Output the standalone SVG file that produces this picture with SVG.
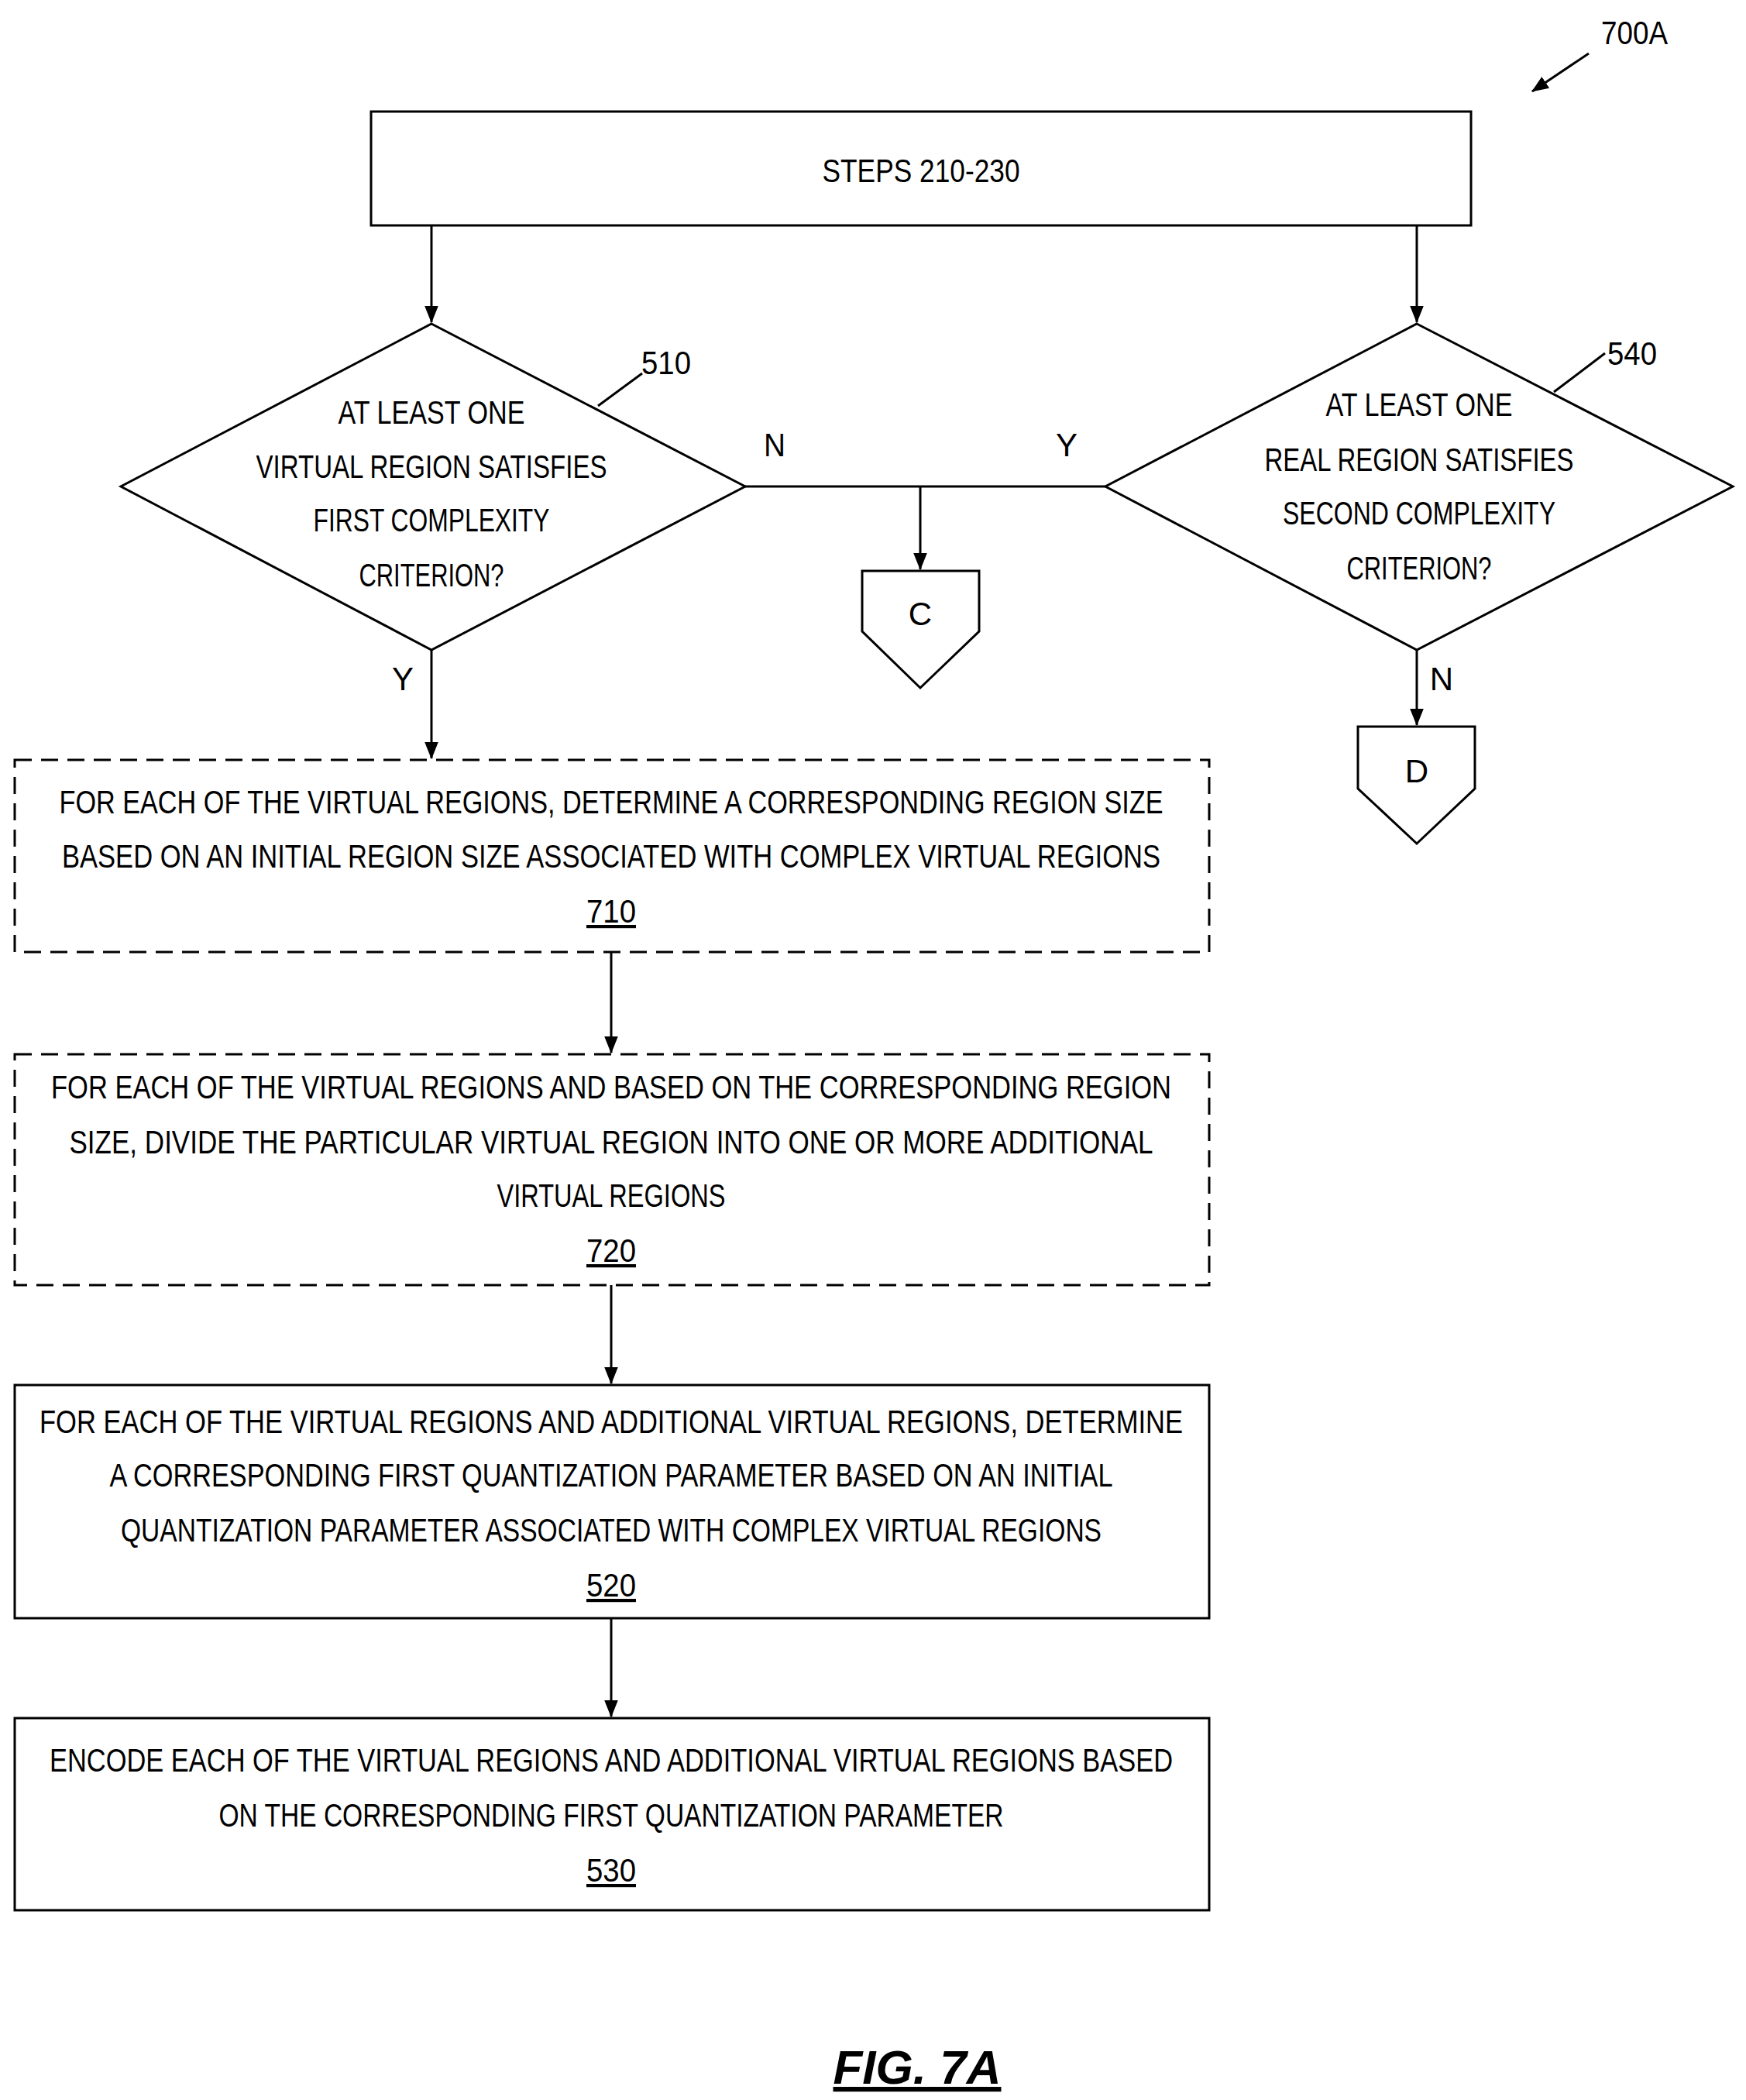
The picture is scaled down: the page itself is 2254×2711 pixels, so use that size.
<svg xmlns="http://www.w3.org/2000/svg" width="2254" height="2711" viewBox="0 0 2254 2711">
<defs>
<marker id="ah" markerWidth="10" markerHeight="10" refX="9" refY="5" orient="auto" markerUnits="userSpaceOnUse" viewBox="0 0 10 10"><path d="M0,0 L10,5 L0,10 z" fill="#000"/></marker>
<marker id="a" viewBox="0 0 20 20" refX="19" refY="10" markerWidth="22" markerHeight="22" markerUnits="userSpaceOnUse" orient="auto"><path d="M0,2 L20,10 L0,18 z" fill="#000"/></marker>
</defs>
<style>
.s{fill:#fff;stroke:#000;stroke-width:3}
.d{fill:#fff;stroke:#000;stroke-width:3;stroke-dasharray:22 12}
.t{font-family:"Liberation Sans",Arial,sans-serif;font-size:42px;fill:#000;text-anchor:middle}
.u{text-decoration:underline}
.c{stroke:#000;stroke-width:3;fill:none}
</style>
<rect width="2254" height="2711" fill="#fff"/>
<g id="connectors">
<line class="c" x1="557" y1="291" x2="557" y2="416" marker-end="url(#a)"/>
<line class="c" x1="1829" y1="291" x2="1829" y2="416" marker-end="url(#a)"/>
<line class="c" x1="962" y1="628" x2="1427" y2="628"/>
<line class="c" x1="1188" y1="628" x2="1188" y2="735" marker-end="url(#a)"/>
<line class="c" x1="557" y1="839" x2="557" y2="979" marker-end="url(#a)"/>
<line class="c" x1="1829" y1="839" x2="1829" y2="936" marker-end="url(#a)"/>
<line class="c" x1="789" y1="1229" x2="789" y2="1359" marker-end="url(#a)"/>
<line class="c" x1="789" y1="1659" x2="789" y2="1786" marker-end="url(#a)"/>
<line class="c" x1="789" y1="2089" x2="789" y2="2216" marker-end="url(#a)"/>
<line class="c" x1="2051" y1="69" x2="1978" y2="118" marker-end="url(#a)"/>
<line class="c" x1="772" y1="524" x2="829" y2="482"/>
<line class="c" x1="2006" y1="506" x2="2072" y2="456"/>
<text class="t" x="1000" y="589" textLength="28" lengthAdjust="spacingAndGlyphs">N</text>
<text class="t" x="1377" y="589">Y</text>
<text class="t" x="520" y="891">Y</text>
<text class="t" x="1861" y="891">N</text>
</g>
<g id="label700A"><text class="t" x="2110" y="57" textLength="86" lengthAdjust="spacingAndGlyphs">700A</text></g>
<g id="steps">
<rect class="s" x="479" y="144" width="1420" height="147"/>
<text class="t" x="1189" y="235" textLength="255" lengthAdjust="spacingAndGlyphs">STEPS 210-230</text>
</g>
<g id="n510">
<polygon class="s" points="557,418 962,628 557,839 156,628"/>
<text class="t" x="557" y="547" textLength="241" lengthAdjust="spacingAndGlyphs">AT LEAST ONE</text>
<text class="t" x="557" y="617" textLength="453" lengthAdjust="spacingAndGlyphs">VIRTUAL REGION SATISFIES</text>
<text class="t" x="557" y="686" textLength="305" lengthAdjust="spacingAndGlyphs">FIRST COMPLEXITY</text>
<text class="t" x="557" y="757" textLength="187" lengthAdjust="spacingAndGlyphs">CRITERION?</text>
<text class="t" x="860" y="483" textLength="64" lengthAdjust="spacingAndGlyphs">510</text>
</g>
<g id="n540">
<polygon class="s" points="1829,418 2237,628 1829,839 1427,628"/>
<text class="t" x="1832" y="537" textLength="241" lengthAdjust="spacingAndGlyphs">AT LEAST ONE</text>
<text class="t" x="1832" y="608" textLength="399" lengthAdjust="spacingAndGlyphs">REAL REGION SATISFIES</text>
<text class="t" x="1832" y="677" textLength="352" lengthAdjust="spacingAndGlyphs">SECOND COMPLEXITY</text>
<text class="t" x="1832" y="748" textLength="187" lengthAdjust="spacingAndGlyphs">CRITERION?</text>
<text class="t" x="2107" y="471" textLength="64" lengthAdjust="spacingAndGlyphs">540</text>
</g>
<g id="offC">
<polygon class="s" points="1113,737 1264,737 1264,815 1188,888 1113,815"/>
<text class="t" x="1188" y="807">C</text>
</g>
<g id="offD">
<polygon class="s" points="1753,938 1904,938 1904,1018 1829,1089 1753,1018"/>
<text class="t" x="1829" y="1010">D</text>
</g>
<g id="n710">
<rect class="d" x="19" y="981" width="1542" height="248"/>
<text class="t" x="789" y="1050" textLength="1425" lengthAdjust="spacingAndGlyphs">FOR EACH OF THE VIRTUAL REGIONS, DETERMINE A CORRESPONDING REGION SIZE</text>
<text class="t" x="789" y="1120" textLength="1418" lengthAdjust="spacingAndGlyphs">BASED ON AN INITIAL REGION SIZE ASSOCIATED WITH COMPLEX VIRTUAL REGIONS</text>
<text class="t u" x="789" y="1191" textLength="64" lengthAdjust="spacingAndGlyphs">710</text>
</g>
<g id="n720">
<rect class="d" x="19" y="1361" width="1542" height="298"/>
<text class="t" x="789" y="1418" textLength="1446" lengthAdjust="spacingAndGlyphs">FOR EACH OF THE VIRTUAL REGIONS AND BASED ON THE CORRESPONDING REGION</text>
<text class="t" x="789" y="1489" textLength="1399" lengthAdjust="spacingAndGlyphs">SIZE, DIVIDE THE PARTICULAR VIRTUAL REGION INTO ONE OR MORE ADDITIONAL</text>
<text class="t" x="789" y="1558" textLength="295" lengthAdjust="spacingAndGlyphs">VIRTUAL REGIONS</text>
<text class="t u" x="789" y="1629" textLength="64" lengthAdjust="spacingAndGlyphs">720</text>
</g>
<g id="n520">
<rect class="s" x="19" y="1788" width="1542" height="301"/>
<text class="t" x="789" y="1850" textLength="1476" lengthAdjust="spacingAndGlyphs">FOR EACH OF THE VIRTUAL REGIONS AND ADDITIONAL VIRTUAL REGIONS, DETERMINE</text>
<text class="t" x="789" y="1919" textLength="1295" lengthAdjust="spacingAndGlyphs">A CORRESPONDING FIRST QUANTIZATION PARAMETER BASED ON AN INITIAL</text>
<text class="t" x="789" y="1990" textLength="1266" lengthAdjust="spacingAndGlyphs">QUANTIZATION PARAMETER ASSOCIATED WITH COMPLEX VIRTUAL REGIONS</text>
<text class="t u" x="789" y="2061" textLength="64" lengthAdjust="spacingAndGlyphs">520</text>
</g>
<g id="n530">
<rect class="s" x="19" y="2218" width="1542" height="248"/>
<text class="t" x="789" y="2287" textLength="1450" lengthAdjust="spacingAndGlyphs">ENCODE EACH OF THE VIRTUAL REGIONS AND ADDITIONAL VIRTUAL REGIONS BASED</text>
<text class="t" x="789" y="2358" textLength="1013" lengthAdjust="spacingAndGlyphs">ON THE CORRESPONDING FIRST QUANTIZATION PARAMETER</text>
<text class="t u" x="789" y="2429" textLength="64" lengthAdjust="spacingAndGlyphs">530</text>
</g>
<g id="caption"><text class="t u" x="1184" y="2690" style="font-size:62px;font-weight:bold;font-style:italic">FIG. 7A</text></g>
</svg>
